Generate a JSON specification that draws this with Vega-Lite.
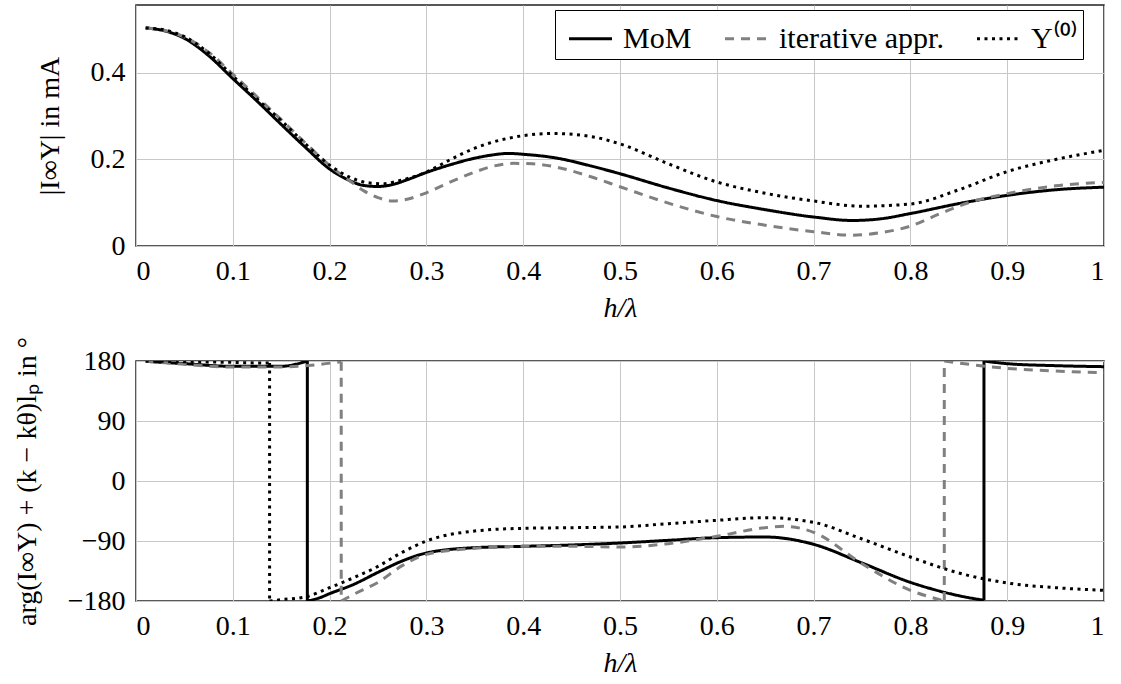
{
  "$schema": "https://vega.github.io/schema/vega-lite/v6.json",
  "padding": {"left": 12, "top": 4, "right": 10, "bottom": 5},
  "background": "white",
  "config": {
    "font": "Liberation Serif",
    "view": {"stroke": "#222", "strokeWidth": 1.5},
    "axis": {
      "labelFont": "Liberation Serif", "labelFontSize": 28, "labelColor": "black",
      "titleFont": "Liberation Serif", "titleFontSize": 28, "titleFontWeight": "normal", "titleColor": "black",
      "gridColor": "#c8c8c8", "gridWidth": 1, "domain": false, "ticks": false
    },
    "axisX": {"labelPadding": 11, "titlePadding": 9},
    "axisY": {"labelPadding": 11, "titlePadding": 26},
    "legend": {
      "labelFont": "Liberation Serif", "labelFontSize": 30, "labelColor": "black", "labelLimit": 400
    }
  },
  "datasets": {
    "mag": [
      {"h":0.01,"v":0.504,"s":"MoM","i":1},{"h":0.03,"v":0.497,"s":"MoM","i":2},{"h":0.05,"v":0.48,"s":"MoM","i":3},{"h":0.075,"v":0.44,"s":"MoM","i":4},{"h":0.1,"v":0.387,"s":"MoM","i":5},{"h":0.125,"v":0.335,"s":"MoM","i":6},{"h":0.15,"v":0.281,"s":"MoM","i":7},{"h":0.175,"v":0.228,"s":"MoM","i":8},{"h":0.2,"v":0.178,"s":"MoM","i":9},{"h":0.22,"v":0.152,"s":"MoM","i":10},{"h":0.235,"v":0.14,"s":"MoM","i":11},{"h":0.25,"v":0.1375,"s":"MoM","i":12},{"h":0.265,"v":0.142,"s":"MoM","i":13},{"h":0.28,"v":0.153,"s":"MoM","i":14},{"h":0.3,"v":0.17,"s":"MoM","i":15},{"h":0.325,"v":0.188,"s":"MoM","i":16},{"h":0.35,"v":0.203,"s":"MoM","i":17},{"h":0.37,"v":0.211,"s":"MoM","i":18},{"h":0.385,"v":0.214,"s":"MoM","i":19},{"h":0.4,"v":0.212,"s":"MoM","i":20},{"h":0.435,"v":0.203,"s":"MoM","i":21},{"h":0.47,"v":0.185,"s":"MoM","i":22},{"h":0.5,"v":0.167,"s":"MoM","i":23},{"h":0.55,"v":0.134,"s":"MoM","i":24},{"h":0.6,"v":0.105,"s":"MoM","i":25},{"h":0.65,"v":0.084,"s":"MoM","i":26},{"h":0.7,"v":0.067,"s":"MoM","i":27},{"h":0.74,"v":0.059,"s":"MoM","i":28},{"h":0.77,"v":0.063,"s":"MoM","i":29},{"h":0.8,"v":0.075,"s":"MoM","i":30},{"h":0.85,"v":0.098,"s":"MoM","i":31},{"h":0.9,"v":0.117,"s":"MoM","i":32},{"h":0.95,"v":0.13,"s":"MoM","i":33},{"h":1.0,"v":0.136,"s":"MoM","i":34},
      {"h":0.01,"v":0.504,"s":"iterative appr.","i":1},{"h":0.03,"v":0.498,"s":"iterative appr.","i":2},{"h":0.05,"v":0.483,"s":"iterative appr.","i":3},{"h":0.075,"v":0.448,"s":"iterative appr.","i":4},{"h":0.1,"v":0.397,"s":"iterative appr.","i":5},{"h":0.125,"v":0.345,"s":"iterative appr.","i":6},{"h":0.15,"v":0.292,"s":"iterative appr.","i":7},{"h":0.175,"v":0.238,"s":"iterative appr.","i":8},{"h":0.2,"v":0.186,"s":"iterative appr.","i":9},{"h":0.22,"v":0.152,"s":"iterative appr.","i":10},{"h":0.235,"v":0.128,"s":"iterative appr.","i":11},{"h":0.25,"v":0.112,"s":"iterative appr.","i":12},{"h":0.265,"v":0.104,"s":"iterative appr.","i":13},{"h":0.28,"v":0.108,"s":"iterative appr.","i":14},{"h":0.3,"v":0.123,"s":"iterative appr.","i":15},{"h":0.325,"v":0.148,"s":"iterative appr.","i":16},{"h":0.35,"v":0.171,"s":"iterative appr.","i":17},{"h":0.37,"v":0.185,"s":"iterative appr.","i":18},{"h":0.39,"v":0.191,"s":"iterative appr.","i":19},{"h":0.41,"v":0.19,"s":"iterative appr.","i":20},{"h":0.435,"v":0.182,"s":"iterative appr.","i":21},{"h":0.47,"v":0.16,"s":"iterative appr.","i":22},{"h":0.5,"v":0.137,"s":"iterative appr.","i":23},{"h":0.55,"v":0.099,"s":"iterative appr.","i":24},{"h":0.6,"v":0.068,"s":"iterative appr.","i":25},{"h":0.65,"v":0.048,"s":"iterative appr.","i":26},{"h":0.7,"v":0.033,"s":"iterative appr.","i":27},{"h":0.74,"v":0.025,"s":"iterative appr.","i":28},{"h":0.77,"v":0.031,"s":"iterative appr.","i":29},{"h":0.8,"v":0.046,"s":"iterative appr.","i":30},{"h":0.83,"v":0.074,"s":"iterative appr.","i":31},{"h":0.86,"v":0.1,"s":"iterative appr.","i":32},{"h":0.9,"v":0.121,"s":"iterative appr.","i":33},{"h":0.95,"v":0.139,"s":"iterative appr.","i":34},{"h":1.0,"v":0.147,"s":"iterative appr.","i":35},
      {"h":0.01,"v":0.504,"s":"Υ⁽⁰⁾","i":1},{"h":0.03,"v":0.499,"s":"Υ⁽⁰⁾","i":2},{"h":0.05,"v":0.484,"s":"Υ⁽⁰⁾","i":3},{"h":0.075,"v":0.446,"s":"Υ⁽⁰⁾","i":4},{"h":0.1,"v":0.393,"s":"Υ⁽⁰⁾","i":5},{"h":0.125,"v":0.34,"s":"Υ⁽⁰⁾","i":6},{"h":0.15,"v":0.29,"s":"Υ⁽⁰⁾","i":7},{"h":0.175,"v":0.236,"s":"Υ⁽⁰⁾","i":8},{"h":0.2,"v":0.187,"s":"Υ⁽⁰⁾","i":9},{"h":0.22,"v":0.16,"s":"Υ⁽⁰⁾","i":10},{"h":0.24,"v":0.146,"s":"Υ⁽⁰⁾","i":11},{"h":0.255,"v":0.144,"s":"Υ⁽⁰⁾","i":12},{"h":0.27,"v":0.15,"s":"Υ⁽⁰⁾","i":13},{"h":0.3,"v":0.171,"s":"Υ⁽⁰⁾","i":14},{"h":0.325,"v":0.2,"s":"Υ⁽⁰⁾","i":15},{"h":0.35,"v":0.226,"s":"Υ⁽⁰⁾","i":16},{"h":0.375,"v":0.244,"s":"Υ⁽⁰⁾","i":17},{"h":0.4,"v":0.255,"s":"Υ⁽⁰⁾","i":18},{"h":0.43,"v":0.26,"s":"Υ⁽⁰⁾","i":19},{"h":0.47,"v":0.253,"s":"Υ⁽⁰⁾","i":20},{"h":0.5,"v":0.236,"s":"Υ⁽⁰⁾","i":21},{"h":0.55,"v":0.19,"s":"Υ⁽⁰⁾","i":22},{"h":0.6,"v":0.148,"s":"Υ⁽⁰⁾","i":23},{"h":0.65,"v":0.122,"s":"Υ⁽⁰⁾","i":24},{"h":0.7,"v":0.104,"s":"Υ⁽⁰⁾","i":25},{"h":0.75,"v":0.092,"s":"Υ⁽⁰⁾","i":26},{"h":0.8,"v":0.097,"s":"Υ⁽⁰⁾","i":27},{"h":0.85,"v":0.13,"s":"Υ⁽⁰⁾","i":28},{"h":0.9,"v":0.172,"s":"Υ⁽⁰⁾","i":29},{"h":0.95,"v":0.2,"s":"Υ⁽⁰⁾","i":30},{"h":1.0,"v":0.221,"s":"Υ⁽⁰⁾","i":31}
    ],
    "phase": [
      {"h":0.01,"v":179.5,"s":"MoM","g":"a","i":1},{"h":0.05,"v":176,"s":"MoM","g":"a","i":2},{"h":0.1,"v":172,"s":"MoM","g":"a","i":3},{"h":0.15,"v":172,"s":"MoM","g":"a","i":4},{"h":0.17,"v":177,"s":"MoM","g":"a","i":5},{"h":0.177,"v":180,"s":"MoM","g":"a","i":6},
      {"h":0.177,"v":180,"s":"MoM","g":"b","i":1},{"h":0.177,"v":-180,"s":"MoM","g":"b","i":2},
      {"h":0.177,"v":-180,"s":"MoM","g":"c","i":1},{"h":0.19,"v":-175,"s":"MoM","g":"c","i":2},{"h":0.2,"v":-169,"s":"MoM","g":"c","i":3},{"h":0.225,"v":-155,"s":"MoM","g":"c","i":4},{"h":0.25,"v":-137,"s":"MoM","g":"c","i":5},{"h":0.275,"v":-120,"s":"MoM","g":"c","i":6},{"h":0.3,"v":-108,"s":"MoM","g":"c","i":7},{"h":0.35,"v":-100,"s":"MoM","g":"c","i":8},{"h":0.4,"v":-98,"s":"MoM","g":"c","i":9},{"h":0.45,"v":-96,"s":"MoM","g":"c","i":10},{"h":0.5,"v":-93,"s":"MoM","g":"c","i":11},{"h":0.55,"v":-89,"s":"MoM","g":"c","i":12},{"h":0.6,"v":-85,"s":"MoM","g":"c","i":13},{"h":0.65,"v":-84,"s":"MoM","g":"c","i":14},{"h":0.7,"v":-95,"s":"MoM","g":"c","i":15},{"h":0.75,"v":-123,"s":"MoM","g":"c","i":16},{"h":0.8,"v":-152,"s":"MoM","g":"c","i":17},{"h":0.85,"v":-172,"s":"MoM","g":"c","i":18},{"h":0.876,"v":-179,"s":"MoM","g":"c","i":19},
      {"h":0.876,"v":-179,"s":"MoM","g":"d","i":1},{"h":0.876,"v":180,"s":"MoM","g":"d","i":2},
      {"h":0.876,"v":180,"s":"MoM","g":"e","i":1},{"h":0.9,"v":176,"s":"MoM","g":"e","i":2},{"h":0.95,"v":173,"s":"MoM","g":"e","i":3},{"h":1.0,"v":171.5,"s":"MoM","g":"e","i":4},
      {"h":0.01,"v":180,"s":"iterative appr.","g":"a","i":1},{"h":0.05,"v":175,"s":"iterative appr.","g":"a","i":2},{"h":0.1,"v":171,"s":"iterative appr.","g":"a","i":3},{"h":0.15,"v":171,"s":"iterative appr.","g":"a","i":4},{"h":0.19,"v":175,"s":"iterative appr.","g":"a","i":5},{"h":0.212,"v":179,"s":"iterative appr.","g":"a","i":6},
      {"h":0.212,"v":179,"s":"iterative appr.","g":"b","i":1},{"h":0.212,"v":-180,"s":"iterative appr.","g":"b","i":2},
      {"h":0.212,"v":-180,"s":"iterative appr.","g":"c","i":1},{"h":0.225,"v":-170,"s":"iterative appr.","g":"c","i":2},{"h":0.25,"v":-152,"s":"iterative appr.","g":"c","i":3},{"h":0.275,"v":-127,"s":"iterative appr.","g":"c","i":4},{"h":0.3,"v":-110,"s":"iterative appr.","g":"c","i":5},{"h":0.35,"v":-101,"s":"iterative appr.","g":"c","i":6},{"h":0.4,"v":-98,"s":"iterative appr.","g":"c","i":7},{"h":0.45,"v":-98,"s":"iterative appr.","g":"c","i":8},{"h":0.5,"v":-99,"s":"iterative appr.","g":"c","i":9},{"h":0.55,"v":-94,"s":"iterative appr.","g":"c","i":10},{"h":0.6,"v":-83,"s":"iterative appr.","g":"c","i":11},{"h":0.65,"v":-70,"s":"iterative appr.","g":"c","i":12},{"h":0.67,"v":-68,"s":"iterative appr.","g":"c","i":13},{"h":0.7,"v":-77,"s":"iterative appr.","g":"c","i":14},{"h":0.75,"v":-124,"s":"iterative appr.","g":"c","i":15},{"h":0.8,"v":-164,"s":"iterative appr.","g":"c","i":16},{"h":0.83,"v":-178,"s":"iterative appr.","g":"c","i":17},{"h":0.835,"v":-180,"s":"iterative appr.","g":"c","i":18},
      {"h":0.835,"v":-180,"s":"iterative appr.","g":"d","i":1},{"h":0.835,"v":180,"s":"iterative appr.","g":"d","i":2},
      {"h":0.835,"v":180,"s":"iterative appr.","g":"e","i":1},{"h":0.85,"v":177,"s":"iterative appr.","g":"e","i":2},{"h":0.9,"v":169,"s":"iterative appr.","g":"e","i":3},{"h":0.95,"v":165,"s":"iterative appr.","g":"e","i":4},{"h":1.0,"v":162.5,"s":"iterative appr.","g":"e","i":5},
      {"h":0.01,"v":180,"s":"Υ⁽⁰⁾","g":"a","i":1},{"h":0.05,"v":179,"s":"Υ⁽⁰⁾","g":"a","i":2},{"h":0.1,"v":178,"s":"Υ⁽⁰⁾","g":"a","i":3},{"h":0.13,"v":177,"s":"Υ⁽⁰⁾","g":"a","i":4},{"h":0.138,"v":177,"s":"Υ⁽⁰⁾","g":"a","i":5},
      {"h":0.138,"v":177,"s":"Υ⁽⁰⁾","g":"b","i":1},{"h":0.138,"v":-180,"s":"Υ⁽⁰⁾","g":"b","i":2},
      {"h":0.138,"v":-180,"s":"Υ⁽⁰⁾","g":"c","i":1},{"h":0.15,"v":-178,"s":"Υ⁽⁰⁾","g":"c","i":2},{"h":0.175,"v":-174,"s":"Υ⁽⁰⁾","g":"c","i":3},{"h":0.2,"v":-160,"s":"Υ⁽⁰⁾","g":"c","i":4},{"h":0.225,"v":-145,"s":"Υ⁽⁰⁾","g":"c","i":5},{"h":0.25,"v":-128,"s":"Υ⁽⁰⁾","g":"c","i":6},{"h":0.275,"v":-107,"s":"Υ⁽⁰⁾","g":"c","i":7},{"h":0.3,"v":-90,"s":"Υ⁽⁰⁾","g":"c","i":8},{"h":0.35,"v":-75,"s":"Υ⁽⁰⁾","g":"c","i":9},{"h":0.4,"v":-71,"s":"Υ⁽⁰⁾","g":"c","i":10},{"h":0.45,"v":-70,"s":"Υ⁽⁰⁾","g":"c","i":11},{"h":0.5,"v":-69,"s":"Υ⁽⁰⁾","g":"c","i":12},{"h":0.55,"v":-64,"s":"Υ⁽⁰⁾","g":"c","i":13},{"h":0.6,"v":-59,"s":"Υ⁽⁰⁾","g":"c","i":14},{"h":0.65,"v":-55,"s":"Υ⁽⁰⁾","g":"c","i":15},{"h":0.7,"v":-62,"s":"Υ⁽⁰⁾","g":"c","i":16},{"h":0.75,"v":-87,"s":"Υ⁽⁰⁾","g":"c","i":17},{"h":0.8,"v":-114,"s":"Υ⁽⁰⁾","g":"c","i":18},{"h":0.85,"v":-138,"s":"Υ⁽⁰⁾","g":"c","i":19},{"h":0.9,"v":-153,"s":"Υ⁽⁰⁾","g":"c","i":20},{"h":0.95,"v":-160,"s":"Υ⁽⁰⁾","g":"c","i":21},{"h":1.0,"v":-164,"s":"Υ⁽⁰⁾","g":"c","i":22}
    ]
  },
  "resolve": {"scale": {"color": "independent", "strokeDash": "independent"}},
  "bounds": "flush",
  "spacing": 115,
  "vconcat": [
    {
      "width": 968, "height": 241,
      "data": {"name": "mag"},
      "mark": {"type": "line", "strokeWidth": 3, "clip": true, "interpolate": "monotone"},
      "encoding": {
        "x": {"field": "h", "type": "quantitative", "scale": {"domain": [0, 1], "nice": false},
              "axis": {"values": [0,0.1,0.2,0.3,0.4,0.5,0.6,0.7,0.8,0.9,1], "format": "~g", "title": "h/λ", "titleFontStyle": "italic"}},
        "y": {"field": "v", "type": "quantitative", "scale": {"domain": [0, 0.557], "nice": false, "zero": false},
              "axis": {"values": [0, 0.2, 0.4], "format": "~g", "title": "|I∞Υ| in mA"}},
        "order": {"field": "i", "type": "quantitative"},
        "color": {"field": "s", "type": "nominal",
                  "scale": {"domain": ["MoM", "iterative appr.", "Υ⁽⁰⁾"], "range": ["black", "#808080", "black"]},
                  "legend": {"orient": "none", "legendX": 419, "legendY": 5, "direction": "horizontal", "title": null,
                             "fillColor": "white", "strokeColor": "black", "padding": 5, "symbolOffset": 7, "symbolType": "stroke",
                             "symbolSize": 1850, "symbolStrokeWidth": 3, "columnPadding": 24, "labelOffset": 9}},
        "strokeDash": {"field": "s", "type": "nominal",
                       "scale": {"domain": ["MoM", "iterative appr.", "Υ⁽⁰⁾"], "range": [[1, 0], [9, 7], [3, 4.5]]},
                       "legend": {"orient": "none", "legendX": 419, "legendY": 5, "direction": "horizontal", "title": null,
                                  "fillColor": "white", "strokeColor": "black", "padding": 5, "symbolOffset": 7, "symbolType": "stroke",
                                  "symbolSize": 1850, "symbolStrokeWidth": 3, "columnPadding": 24, "labelOffset": 9}}
      }
    },
    {
      "width": 968, "height": 240,
      "data": {"name": "phase"},
      "mark": {"type": "line", "strokeWidth": 3, "clip": true, "interpolate": "monotone"},
      "encoding": {
        "x": {"field": "h", "type": "quantitative", "scale": {"domain": [0, 1], "nice": false},
              "axis": {"values": [0,0.1,0.2,0.3,0.4,0.5,0.6,0.7,0.8,0.9,1], "format": "~g", "title": "h/λ", "titleFontStyle": "italic"}},
        "y": {"field": "v", "type": "quantitative", "scale": {"domain": [-180, 180], "nice": false},
              "axis": {"values": [-180, -90, 0, 90, 180], "title": "arg(I∞Υ) + (k − kθ)lₚ in °"}},
        "order": {"field": "i", "type": "quantitative"},
        "detail": {"field": "g", "type": "nominal"},
        "color": {"field": "s", "type": "nominal",
                  "scale": {"domain": ["MoM", "iterative appr.", "Υ⁽⁰⁾"], "range": ["black", "#808080", "black"]},
                  "legend": null},
        "strokeDash": {"field": "s", "type": "nominal",
                       "scale": {"domain": ["MoM", "iterative appr.", "Υ⁽⁰⁾"], "range": [[1, 0], [9, 7], [3, 4.5]]},
                       "legend": null}
      }
    }
  ]
}
